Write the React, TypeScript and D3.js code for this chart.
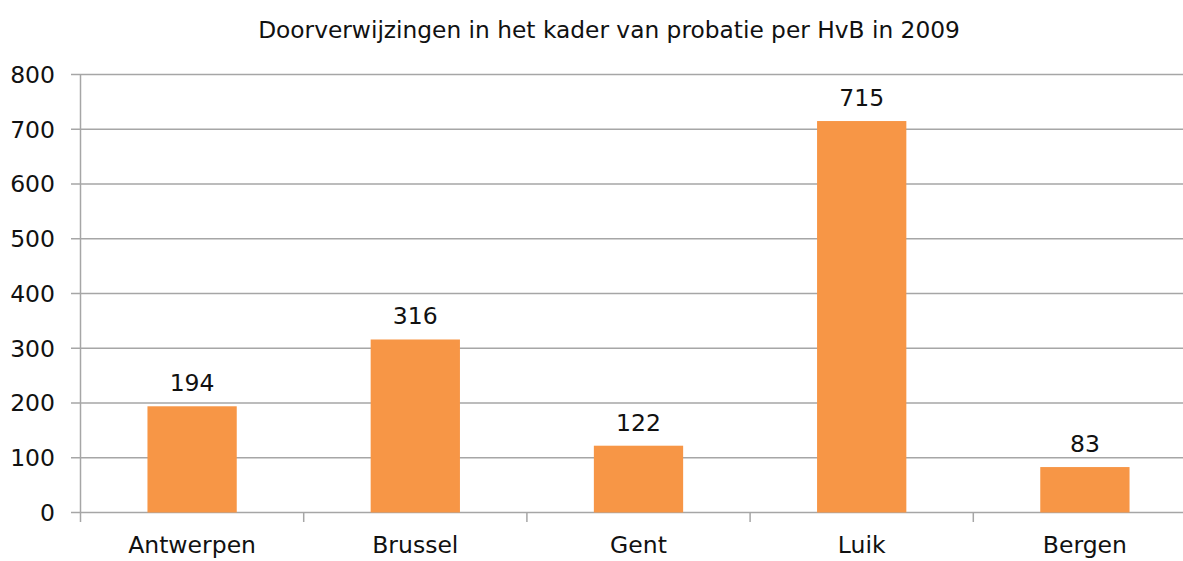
import React from "react";
import * as d3 from "d3";

const categories = ["Antwerpen", "Brussel", "Gent", "Luik", "Bergen"];
const values = [194, 316, 122, 715, 83];
const yTicks = [0, 100, 200, 300, 400, 500, 600, 700, 800];
const title = "Doorverwijzingen in het kader van probatie per HvB in 2009";

const W = 1183;
const H = 561;

export default function App() {
  const left = 80.5;
  const step = 223.2;
  const x = d3
    .scaleBand<string>()
    .domain(categories)
    .range([left, left + step * categories.length])
    .paddingInner(0.6)
    .paddingOuter(0.3);
  const y = d3.scaleLinear().domain([0, 800]).range([512.5, 74.5]);
  const font = "'DejaVu Sans', Verdana, sans-serif";
  const grid = "#a6a6a6";
  const boundaries = d3.range(categories.length + 1).map((i) => left + i * step);

  return (
    <svg
      width={W}
      height={H}
      style={{ position: "absolute", left: 0, top: 0, background: "#fff" }}
      fontFamily={font}
    >
      <text x={609} y={38} textAnchor="middle" fontSize={23.3} fill="#111">
        {title}
      </text>
      {yTicks.map((t) => (
        <g key={t}>
          <line x1={71} x2={W} y1={y(t)} y2={y(t)} stroke={grid} strokeWidth={1.5} />
          <text x={55} y={y(t)} dy="0.36em" textAnchor="end" fontSize={23.5} fill="#111">
            {t}
          </text>
        </g>
      ))}
      <line x1={left} x2={left} y1={y(800)} y2={522} stroke={grid} strokeWidth={1.5} />
      {boundaries.slice(1).map((b, i) => (
        <line key={i} x1={b} x2={b} y1={y(0)} y2={522} stroke={grid} strokeWidth={1.5} />
      ))}
      {categories.map((c, i) => (
        <g key={c}>
          <rect
            x={x(c)!}
            y={y(values[i])}
            width={x.bandwidth()}
            height={y(0) - y(values[i])}
            fill="#F79646"
          />
          <text
            x={x(c)! + x.bandwidth() / 2}
            y={y(values[i]) - 15}
            textAnchor="middle"
            fontSize={23.5}
            fill="#111"
          >
            {values[i]}
          </text>
          <text
            x={x(c)! + x.bandwidth() / 2}
            y={553}
            textAnchor="middle"
            fontSize={23.5}
            fill="#111"
          >
            {c}
          </text>
        </g>
      ))}
    </svg>
  );
}
